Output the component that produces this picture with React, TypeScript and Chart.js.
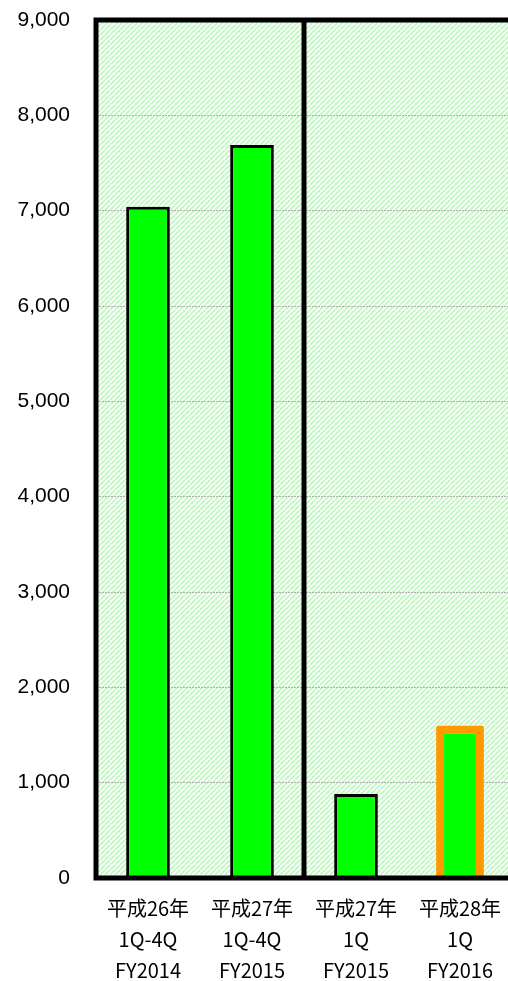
import React, { useEffect, useRef } from "react";
import { Chart, registerables } from "chart.js";

Chart.register(...registerables);

const categories: string[][] = [
  ["平成26年", "1Q-4Q", "FY2014"],
  ["平成27年", "1Q-4Q", "FY2015"],
  ["平成27年", "1Q", "FY2015"],
  ["平成28年", "1Q", "FY2016"],
];
const pastValues: (number | null)[] = [7040, 7690, 880, null];
const currentValues: (number | null)[] = [null, null, null, 1600];
const yTicks: number[] = [0, 1000, 2000, 3000, 4000, 5000, 6000, 7000, 8000, 9000];

function makePattern(): CanvasPattern | string {
  const n = 5;
  const c = document.createElement("canvas");
  c.width = n;
  c.height = n;
  const g = c.getContext("2d");
  if (!g) return "#e6ffe6";
  g.fillStyle = "#ffffff";
  g.fillRect(0, 0, n, n);
  g.strokeStyle = "#c4f7c4";
  g.lineWidth = 2;
  for (let k = -n; k <= 2 * n; k += n) {
    g.beginPath();
    g.moveTo(k, n);
    g.lineTo(k + n, 0);
    g.stroke();
  }
  const p = g.createPattern(c, "repeat");
  return p || "#e6ffe6";
}

const framePlugin = {
  id: "frame",
  beforeDraw(chart: any) {
    const { ctx, chartArea } = chart;
    ctx.save();
    ctx.fillStyle = makePattern();
    ctx.fillRect(chartArea.left, chartArea.top, chartArea.right - chartArea.left, chartArea.bottom - chartArea.top);
    ctx.restore();
  },
  afterDatasetsDraw(chart: any) {
    const { ctx, chartArea } = chart;
    const x = chart.scales.x;
    ctx.save();
    ctx.strokeStyle = "#000";
    ctx.lineWidth = 5;
    ctx.lineCap = "square";
    ctx.beginPath();
    ctx.moveTo(chartArea.left, chartArea.bottom);
    ctx.lineTo(chartArea.left, chartArea.top);
    ctx.lineTo(chartArea.right + 10, chartArea.top);
    ctx.moveTo(chartArea.left, chartArea.bottom);
    ctx.lineTo(chartArea.right + 10, chartArea.bottom);
    const mid = (x.getPixelForValue(1) + x.getPixelForValue(2)) / 2;
    ctx.moveTo(mid, chartArea.top);
    ctx.lineTo(mid, chartArea.bottom);
    ctx.stroke();
    ctx.restore();
  },
};

export default function App() {
  const ref = useRef<HTMLCanvasElement>(null);
  useEffect(() => {
    if (!ref.current) return;
    const chart = new Chart(ref.current, {
      type: "bar",
      data: {
        labels: categories,
        datasets: [
          {
            data: pastValues,
            backgroundColor: "#00ff00",
            borderColor: "#000000",
            borderWidth: 3,
            barPercentage: 0.42,
            categoryPercentage: 1,
            grouped: false,
          },
          {
            data: currentValues,
            backgroundColor: "#00ff00",
            borderColor: "#ff9900",
            borderWidth: 8,
            borderSkipped: "start",
            borderRadius: 2,
            barPercentage: 0.46,
            categoryPercentage: 1,
            grouped: false,
          },
        ],
      } as any,
      options: {
        animation: false,
        responsive: false,
        maintainAspectRatio: false,
        layout: { padding: { top: 20, right: 4, left: 0, bottom: 0 } },
        plugins: { legend: { display: false }, tooltip: { enabled: false } },
        scales: {
          x: {
            grid: { display: false },
            border: { display: false },
            ticks: {
              color: "#000",
              font: { family: "'Noto Sans CJK JP'", size: 20, lineHeight: 1.55 },
              padding: 7,
              maxRotation: 0,
              autoSkip: false,
            },
            afterFit(s: any) {
              s.height = 103;
              s.paddingLeft = 0;
              s.paddingRight = 0;
            },
          },
          y: {
            min: 0,
            max: 9000,
            afterBuildTicks(s: any) {
              s.ticks = yTicks.map((v) => ({ value: v }));
            },
            grid: {
              color: "#b0b0b0",
              lineWidth: 1,
              drawTicks: false,
            },
            border: { display: false, dash: [2, 1] },
            ticks: {
              color: "#000",
              font: { family: "'Liberation Sans', Arial", size: 21 },
              padding: 26,
              callback: (v: any) => Number(v).toLocaleString("en-US"),
            },
            afterFit(s: any) {
              s.width = 96;
              s.paddingTop = 0;
              s.paddingBottom = 0;
            },
          },
        },
      },
      plugins: [framePlugin],
    });
    return () => chart.destroy();
  }, []);
  return (
    <div style={{ position: "fixed", left: 0, top: 0 }}>
      <canvas ref={ref} width={516} height={981} style={{ display: "block", width: 516, height: 981 }} />
    </div>
  );
}
